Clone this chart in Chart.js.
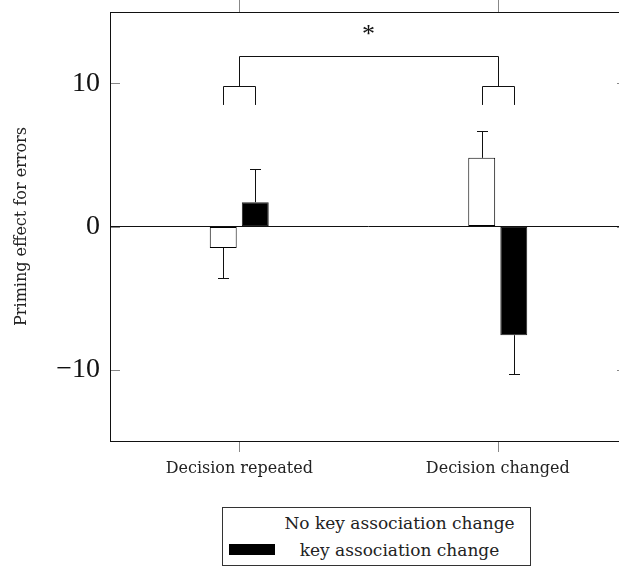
<!DOCTYPE html>
<html>
<head>
<meta charset="utf-8">
<script src="https://cdn.jsdelivr.net/npm/chart.js@4.4.1/dist/chart.umd.min.js"></script>
<style>
  html, body { margin: 0; padding: 0; background: #fff; overflow: hidden; }
  #wrap { position: relative; width: 640px; height: 570px; }
  #legend {
    position: absolute; left: 222px; top: 507px; width: 309px; height: 59px;
    border: 1px solid #333; box-sizing: border-box;
    font-family: "DejaVu Serif", serif; font-size: 17px; color: #222;
  }
  .row { position: absolute; left: 0; width: 100%; height: 22px; }
  .swatch { position: absolute; left: 6px; top: 5px; width: 46px; height: 11px; }
  .label { position: absolute; left: 50px; right: 4px; text-align: center; top: 0; line-height: 22px; }
</style>
</head>
<body>
<div id="wrap">
  <canvas id="chart" width="640" height="500"></canvas>
  <div id="legend"></div>
</div>
<script>
// --- data ---
const categories = ['Decision repeated', 'Decision changed'];
const seriesNames = ['No key association change', 'key association change'];
const noKeyChange = [-1.5, 4.8];
const keyChange = [1.7, -7.6];
const noKeyChangeErr = [2.1, 1.9];
const keyChangeErr = [2.3, 2.7];
const yTicks = [-10, 0, 10];

// significance brackets (y values)
const pairBracketLow = 8.5;
const pairBracketTop = 9.8;
const spanBracketTop = 11.9;
const starLevel = 13.7;
const starText = '*';

const errors = [noKeyChangeErr, keyChangeErr];

const serif = '"Liberation Serif", serif';
const smallSerif = '"DejaVu Serif", serif';

const line = (ctx, x1, y1, x2, y2) => {
    ctx.beginPath();
    ctx.moveTo(x1, y1);
    ctx.lineTo(x2, y2);
    ctx.stroke();
};

const decorations = {
    id: 'decorations',
    afterDatasetsDraw(chart) {
        const { ctx, scales: { x, y } } = chart;
        ctx.save();
        ctx.lineWidth = 1;

        // error bars
        ctx.strokeStyle = '#111';
        chart.data.datasets.forEach((ds, di) => {
            chart.getDatasetMeta(di).data.forEach((bar, i) => {
                const v = ds.data[i];
                const end = v + Math.sign(v) * errors[di][i];
                const bx = Math.round(bar.x) + 0.5;
                const y1 = y.getPixelForValue(v);
                const y2 = Math.round(y.getPixelForValue(end)) + 0.5;
                line(ctx, bx, y1, bx, y2);
                line(ctx, bx - 5.5, y2, bx + 5.5, y2);
            });
        });

        // brackets
        const yl = y.getPixelForValue(pairBracketLow);
        const yt = Math.round(y.getPixelForValue(pairBracketTop)) + 0.5;
        const ys = Math.round(y.getPixelForValue(spanBracketTop)) + 0.5;
        const m0 = chart.getDatasetMeta(0).data;
        const m1 = chart.getDatasetMeta(1).data;
        categories.forEach((c, i) => {
            const l = Math.round(m0[i].x) + 0.5;
            const r = Math.round(m1[i].x) + 0.5;
            const cx = Math.round(x.getPixelForValue(i)) + 0.5;
            ctx.beginPath();
            ctx.moveTo(l, yl);
            ctx.lineTo(l, yt);
            ctx.lineTo(r, yt);
            ctx.lineTo(r, yl);
            ctx.stroke();
            line(ctx, cx, yt, cx, ys);
        });
        line(ctx, Math.round(x.getPixelForValue(0)) + 0.5, ys, Math.round(x.getPixelForValue(1)) + 0.5, ys);

        ctx.fillStyle = '#111';
        ctx.font = '26px ' + serif;
        ctx.textAlign = 'center';
        ctx.textBaseline = 'middle';
        ctx.fillText(starText, (x.getPixelForValue(0) + x.getPixelForValue(1)) / 2, y.getPixelForValue(starLevel) + 5);
        ctx.restore();
    },
    afterDraw(chart) {
        const { ctx, chartArea: a, scales: { x, y } } = chart;
        ctx.save();
        ctx.lineWidth = 1;
        // tick marks: inward on y, outward on x
        ctx.strokeStyle = '#888';
        yTicks.forEach(v => {
            const py = Math.round(y.getPixelForValue(v)) + 0.5;
            line(ctx, a.left, py, a.left + 10, py);
            line(ctx, a.right - 10, py, a.right, py);
        });
        categories.forEach((c, i) => {
            const px = Math.round(x.getPixelForValue(i)) + 0.5;
            line(ctx, px, a.bottom, px, a.bottom + 11);
            line(ctx, px, a.top, px, a.top - 12);
        });
        // frame
        ctx.strokeStyle = '#111';
        ctx.strokeRect(Math.round(a.left) + 0.5, Math.round(a.top) + 0.5,
            Math.round(a.right - a.left), Math.round(a.bottom - a.top));
        ctx.restore();
    }
};

new Chart(document.getElementById('chart'), {
    type: 'bar',
    data: {
        labels: categories,
        datasets: [
            {
                label: seriesNames[0],
                data: noKeyChange,
                backgroundColor: '#fff',
                borderColor: '#000',
                borderWidth: 1,
                borderSkipped: false
            },
            {
                label: seriesNames[1],
                data: keyChange,
                backgroundColor: '#000',
                borderColor: '#222',
                borderWidth: 1,
                borderSkipped: false
            }
        ]
    },
    options: {
        responsive: false,
        animation: false,
        devicePixelRatio: 1,
        categoryPercentage: 0.248,
        barPercentage: 0.84,
        layout: { padding: { top: 12, right: 13, left: 0, bottom: 0 } },
        plugins: {
            legend: { display: false },
            tooltip: { enabled: false }
        },
        scales: {
            x: {
                grid: { display: false, drawTicks: false },
                border: { display: false },
                ticks: {
                    padding: 18,
                    color: '#222',
                    font: { family: smallSerif, size: 16 }
                },
                afterFit(scale) {
                    scale.height = 59;
                    scale.paddingLeft = 0;
                    scale.paddingRight = 0;
                }
            },
            y: {
                min: -15,
                max: 15,
                afterBuildTicks(scale) { scale.ticks = yTicks.map(v => ({ value: v })); },
                grid: {
                    drawTicks: false,
                    color: ctx => (ctx.tick && ctx.tick.value === 0 ? '#111' : 'rgba(0,0,0,0)')
                },
                border: { display: false },
                ticks: {
                    padding: 10,
                    color: '#111',
                    font: { family: serif, size: 28 },
                    callback: v => (v < 0 ? '\u2212' + Math.abs(v) : String(v))
                },
                title: {
                    display: true,
                    text: 'Priming effect for errors',
                    color: '#222',
                    padding: { top: 12, bottom: 0 },
                    font: { family: smallSerif, size: 16 }
                },
                afterFit(scale) {
                    scale.width = 110;
                    scale.paddingTop = 0;
                    scale.paddingBottom = 0;
                }
            }
        }
    },
    plugins: [decorations]
});

// legend box under the plot
const legendEl = document.getElementById('legend');
const swatchColors = ['#fff', '#000'];
seriesNames.forEach((name, i) => {
    const row = document.createElement('div');
    row.className = 'row';
    row.style.top = (4 + i * 27) + 'px';
    row.innerHTML = '<div class="swatch" style="background:' + swatchColors[i] + '"></div>' +
        '<div class="label">' + name + '</div>';
    legendEl.appendChild(row);
});
</script>
</body>
</html>
